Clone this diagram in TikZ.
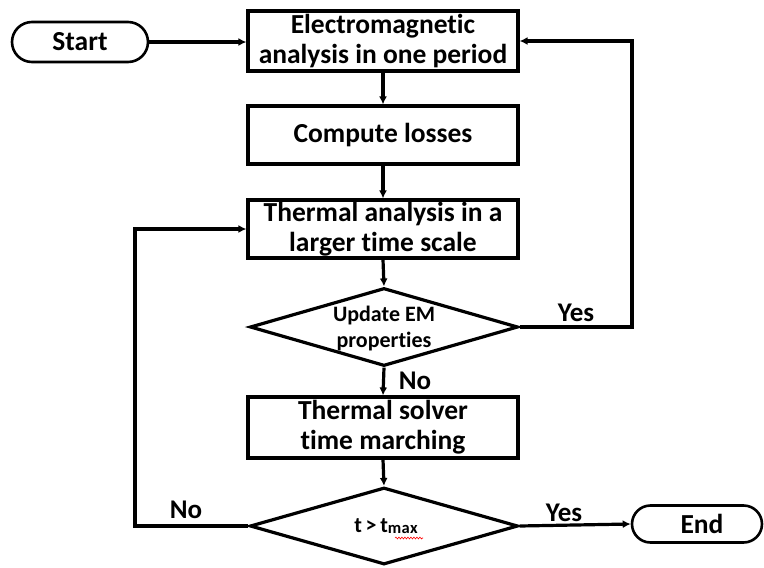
\documentclass[tikz,border=0pt]{standalone}
\usepackage{fontspec}
\setmainfont{Carlito}[Ligatures=NoCommon]
\usetikzlibrary{shapes.geometric,shapes.misc,arrows.meta,decorations.pathmorphing}
\tikzset{
  procbox/.style={draw, line width=3.2pt, rectangle, minimum width=270pt, inner sep=0pt,
    align=center, font=\fontsize{27.5}{30}\selectfont\bfseries},
  decision/.style={draw, line width=3.2pt, diamond, minimum width=268pt, minimum height=78pt, inner sep=0pt},
  dtext/.style={align=center, font=\fontsize{22}{26}\selectfont\bfseries},
  terminal/.style={draw, line width=2.6pt, rounded rectangle, minimum width=136pt, minimum height=40pt,
    inner sep=0pt, font=\fontsize{27.5}{30}\selectfont\bfseries},
  lbl/.style={font=\fontsize{27}{30}\selectfont\bfseries},
  arr/.style={line width=3.2pt, -{Latex[length=8pt,width=8pt]}},
  line/.style={line width=3.2pt}
}
\begin{document}
\begin{tikzpicture}[x=1pt,y=-1pt]
\useasboundingbox (0,0) rectangle (764,568);

% main column
\node[procbox, minimum height=60pt] (b1) at (383,41) {Electromagnetic\\analysis in one period};
\node[procbox, minimum height=58pt] (b2) at (383,135) {Compute losses};
\node[procbox, minimum height=58pt] (b3) at (383,229) {Thermal analysis in a\\larger time scale};
\node[decision] (d1) at (384,327) {};
\node[dtext] (d1t) at (384,329) {Update EM\\properties};
\node[procbox, minimum height=61pt] (b4) at (383,427.5) {Thermal solver\\time marching};
\node[decision, minimum height=77pt] (d2) at (384,526) {};
\node[font=\fontsize{22}{26}\selectfont\bfseries] (d2t) at (386,526)
  {t\,>\,t\raisebox{-1.5pt}{\fontsize{16.5}{18}\selectfont m\kern0.3pt a\kern0.3pt x}};
\coordinate (wav1) at (395,538);
\coordinate (wav2) at (423,538);
\draw[red, line width=0.6pt, decorate, decoration={snake, amplitude=0.9pt, segment length=3pt}] (wav1) -- (wav2);

% terminals
\node[terminal] (start) at (80,42) {Start};
\node[terminal, minimum width=130pt, minimum height=37pt] (end) at (697,524) {\hspace*{10pt}End};

% flow
\draw[arr] (start.east) -- (b1.west |- start.east);
\draw[arr] (b1.south) -- (b2.north);
\draw[arr] (b2.south) -- (b3.north);
\draw[arr] (b3.south) -- (d1.north);
\draw[arr] (d1.south) -- (b4.north);
\draw[arr] (b4.south) -- (d2.north);
\draw[arr] (d2.east) -- (end.west);

% feedback loops
\coordinate (yesturn) at (632,327);
\draw[arr] (d1.east) -- (yesturn) |- (b1.east);
\coordinate (noturn) at (135,526);
\draw[arr] (d2.west) -- (noturn) |- (b3.west);

% branch labels
\node[lbl] (yes1) at (576,313) {Yes};
\node[lbl] (no1) at (415,381) {No};
\node[lbl] (no2) at (186,510) {No};
\node[lbl] (yes2) at (564,513) {Yes};
\end{tikzpicture}
\end{document}
